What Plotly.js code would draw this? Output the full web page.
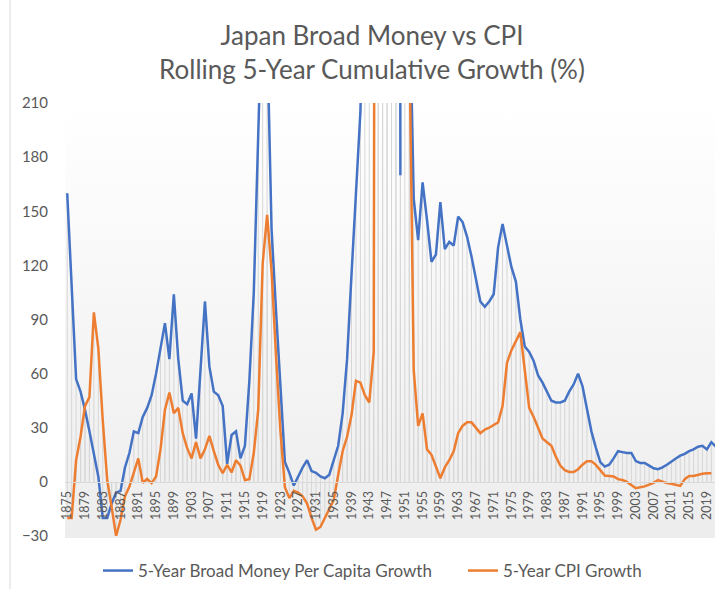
<!DOCTYPE html>
<html><head><meta charset="utf-8">
<script src="https://cdn.plot.ly/plotly-3.0.1.min.js"></script>
<style>html,body{margin:0;padding:0;overflow:hidden;background:#fff}</style>
</head><body><div id="chart"></div>
<script>
// Years 1875..2021 (categories)
const startYear = 1875;
const endYear = 2021;
const years = [];
for (let y = startYear; y <= endYear; y++) years.push(y);

// 5-Year Broad Money Per Capita Growth (%), 1875..2021
const broadMoney = [
  160, 108, 57, 50, 40, 28, 15, 3, -20, -20,          // 1875-1884
  -12, -6, -5, 8, 16, 28, 27, 36, 41, 48,             // 1885-1894
  60, 75, 88, 68, 104, 68, 45, 43, 49, 24,            // 1895-1904
  62, 100, 64, 50, 48, 42, 10, 26, 28, 13,            // 1905-1914
  20, 56, 105, 195, 280, 250, 140, 95, 50, 11,        // 1915-1924
  5, -2, 3, 8, 12, 6, 5, 3, 2, 4,                     // 1925-1934
  12, 20, 38, 68, 115, 163, 205, 300, 450, 700,       // 1935-1944
  1200, 2000, 2500, 3000, 3500, 170, null, 280, 157, 134, // 1945-1954
  166, 145, 122, 126, 155, 129, 133, 131, 147, 144,   // 1955-1964
  136, 125, 112, 100, 97, 100, 104, 130, 143, 130,    // 1965-1974
  119, 111, 90, 75, 72, 67, 59, 55, 50, 45,           // 1975-1984
  44, 44, 45, 50, 54, 60, 53, 40, 28, 19,             // 1985-1994
  11, 8.5, 9.5, 13, 17, 16.5, 16, 16, 11.5, 10.5,     // 1995-2004
  10.5, 9, 7.5, 7, 8, 9.5, 11.5, 13, 14.5, 15.5,      // 2005-2014
  17, 18, 19.5, 20, 18, 22, 19.5                      // 2015-2021
];

// 5-Year CPI Growth (%), 1875..2020
const cpi = [
  -20, -20, 12, 25, 42, 47, 94, 74, 34, 1,            // 1875-1884
  -14, -30, -21, -8, -2.6, 5, 13, -0.5, 1.6, -0.7,    // 1885-1894
  3, 18, 40, 49.5, 38, 41, 27, 18.7, 13, 22,          // 1895-1904
  13, 18, 25.5, 17, 9.4, 4.8, 9.4, 5.2, 12, 9,        // 1905-1914
  1, 1.5, 16, 40, 121, 148, 117, 70, 28, -3,          // 1915-1924
  -9, -5, -6, -8, -12, -20, -26.5, -25, -20, -15,     // 1925-1934
  -10, 4, 17, 25, 37, 56, 55, 48, 44, 72,             // 1935-1944
  1500, 4000, 8000, 12000, 10000, 5000, 1500, 250, 62, 31, // 1945-1954
  38, 18, 15, 8.5, 2, 8, 12, 17, 27, 31,              // 1955-1964
  33, 33, 30, 27, 29, 30, 31.5, 33, 42, 66,           // 1965-1974
  73, 78, 83, 62, 41, 36, 30, 24, 22, 20,             // 1975-1984
  14, 9, 6.5, 5.5, 5.5, 7, 9.5, 11.5, 11.5, 9.4,      // 1985-1994
  6.5, 3.5, 3.3, 3, 1.5, 1, 0, -2, -3.5, -3,          // 1995-2004
  -2.5, -1.5, -0.5, 1, 0, -0.7, -1, -1.5, -2.2, 1.5,  // 2005-2014
  3.3, 3.3, 4, 4.5, 4.8, 4.8                          // 2015-2020
];

const seriesNames = ['5-Year Broad Money Per Capita Growth', '5-Year CPI Growth'];
const seriesColors = ['#4472C4', '#ED7D31'];
const titleLines = ['Japan Broad Money vs CPI', 'Rolling 5-Year Cumulative Growth (%)'];

const FONT = 'Lato, "Open Sans", sans-serif';
const TXT = '#595959';

function dropLines(vals) {
  const xs = [], ys = [];
  vals.forEach((v, i) => {
    if (v === null || v === undefined) return;
    xs.push(years[i], years[i], null);
    ys.push(0, v, null);
  });
  return {x: xs, y: ys, type: 'scatter', mode: 'lines',
    line: {color: '#d6d6d6', width: 1}, hoverinfo: 'skip', showlegend: false};
}

const traces = [
  dropLines(broadMoney),
  dropLines(cpi),
  {x: years.slice(0, broadMoney.length), y: broadMoney, name: seriesNames[0], type: 'scatter', mode: 'lines',
   line: {color: seriesColors[0], width: 2.5}, connectgaps: false, legend: 'legend'},
  {x: years.slice(0, cpi.length), y: cpi, name: seriesNames[1], type: 'scatter', mode: 'lines',
   line: {color: seriesColors[1], width: 2.5}, connectgaps: false, legend: 'legend2'}
];

const W = 720, H = 589, ML = 65, MR = 2, MT = 103, MB = 53;
const PW = W - ML - MR, PH = H - MT - MB;
const px2x = px => (px - ML) / PW;
const py2y = py => (H - MB - py) / PH;

const grad = 'data:image/svg+xml;utf8,' + encodeURIComponent(
  '<svg xmlns="http://www.w3.org/2000/svg" width="100" height="100" preserveAspectRatio="none">' +
  '<defs><linearGradient id="g" x1="0" y1="0" x2="0" y2="1">' +
  '<stop offset="0" stop-color="#ffffff"/><stop offset="1" stop-color="#ededed"/></linearGradient></defs>' +
  '<rect width="100" height="100" fill="url(#g)"/></svg>');

const legendCommon = {
  orientation: 'h', xanchor: 'left',
  y: -(571 - (H - MB)) / PH, yanchor: 'middle',
  font: {family: FONT, size: 17, color: TXT},
  bgcolor: 'rgba(0,0,0,0)'
};

const layout = {
  width: W, height: H,
  margin: {l: ML, r: MR, t: MT, b: MB, pad: 0, autoexpand: false},
  paper_bgcolor: '#ffffff',
  plot_bgcolor: 'rgba(0,0,0,0)',
  font: {family: FONT, color: TXT},
  title: {
    text: titleLines.join('<br>'),
    font: {family: FONT, size: 26, color: TXT},
    x: px2x(372), xref: 'paper', xanchor: 'center',
    y: 1 - 45 / H, yref: 'container', yanchor: 'middle'
  },
  xaxis: {
    range: [startYear - 0.5, endYear + 0.5],
    tick0: startYear, dtick: 4, tickangle: -90,
    anchor: 'free', position: (0 - (-30)) / 240,
    showline: true, linecolor: '#d9d9d9', linewidth: 1,
    showgrid: false, zeroline: false, ticks: '',
    tickfont: {family: FONT, size: 12.5, color: TXT},
    ticklabelstandoff: 3
  },
  yaxis: {
    range: [-30, 210], tick0: -30, dtick: 30,
    showgrid: false, zeroline: false, showline: false, ticks: '',
    tickfont: {family: FONT, size: 15, color: TXT},
    ticklabelstandoff: 16
  },
  showlegend: true,
  legend: Object.assign({}, legendCommon, {x: px2x(98)}),
  legend2: Object.assign({}, legendCommon, {x: px2x(463)}),
  images: [{
    source: grad, xref: 'paper', yref: 'paper', x: 0, y: 1, sizex: 1, sizey: 1 - py2y(538),
    sizing: 'stretch', xanchor: 'left', yanchor: 'top', layer: 'below'
  }],
  shapes: [{
    type: 'line', xref: 'paper', yref: 'paper',
    x0: px2x(10), x1: px2x(10), y0: py2y(H), y1: py2y(0),
    line: {color: '#d9d9d9', width: 1}
  }]
};

Plotly.newPlot('chart', traces, layout, {displayModeBar: false, responsive: false});
</script>
</body></html>
